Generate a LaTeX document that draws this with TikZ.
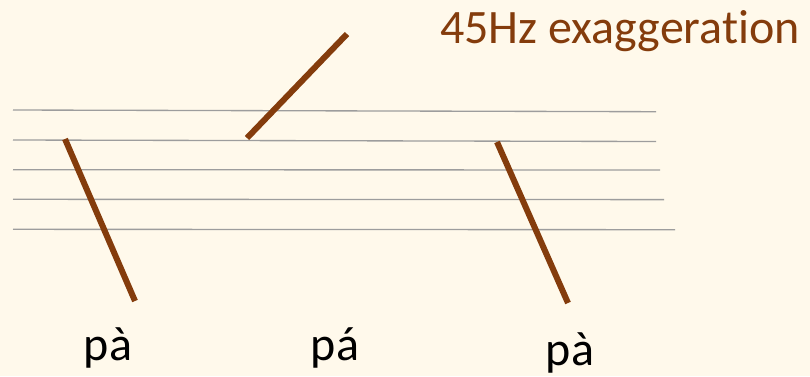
\documentclass[tikz,border=0pt]{standalone}
\usepackage{fontspec}
\setmainfont{Carlito}[Ligatures=NoCommon]
\usepackage{xcolor}
\usepackage{tikz}
\definecolor{cream}{HTML}{FFF9EB}
\definecolor{tonebrn}{HTML}{843C0C}
\definecolor{staffgr}{HTML}{9D9D9D}
\tikzset{staffline/.style={staffgr,line width=1pt},
  contour/.style={tonebrn,line width=4.5pt},
  syl/.style={font=\fontsize{36}{42}\selectfont,anchor=base,inner sep=0pt}}
\newcommand{\staff}{%
  \draw[staffline] (13,110.0) -- (656,111.7);
  \draw[staffline] (13,140.0) -- (656,141.5);
  \draw[staffline] (13,169.7) -- (660,170.0);
  \draw[staffline] (13,199.3) -- (664,199.6);
  \draw[staffline] (13,229.3) -- (675,229.7);
}
\newcommand{\contours}{%
  \coordinate (fallA0) at (65,139);  \coordinate (fallA1) at (135,301);
  \coordinate (rise0)  at (247,138); \coordinate (rise1)  at (347,34);
  \coordinate (fallB0) at (497,142); \coordinate (fallB1) at (568,303);
  \draw[contour] (fallA0) -- (fallA1);
  \draw[contour] (rise0) -- (rise1);
  \draw[contour] (fallB0) -- (fallB1);
}

\begin{document}
\begin{tikzpicture}[x=0.75pt,y=-0.75pt]
\fill[cream] (0,0) rectangle (810,376);
\useasboundingbox (0,0) rectangle (810,376);
\staff \contours
\node[syl,anchor=base west,text=tonebrn] (note) at (440,43) {45Hz exaggeration};
\node[syl] (syl1) at (108,360) {pà};
\node[syl] (syl2) at (335,360) {pá};
\node[syl] (syl3) at (570,365) {pà};
\end{tikzpicture}
\end{document}
